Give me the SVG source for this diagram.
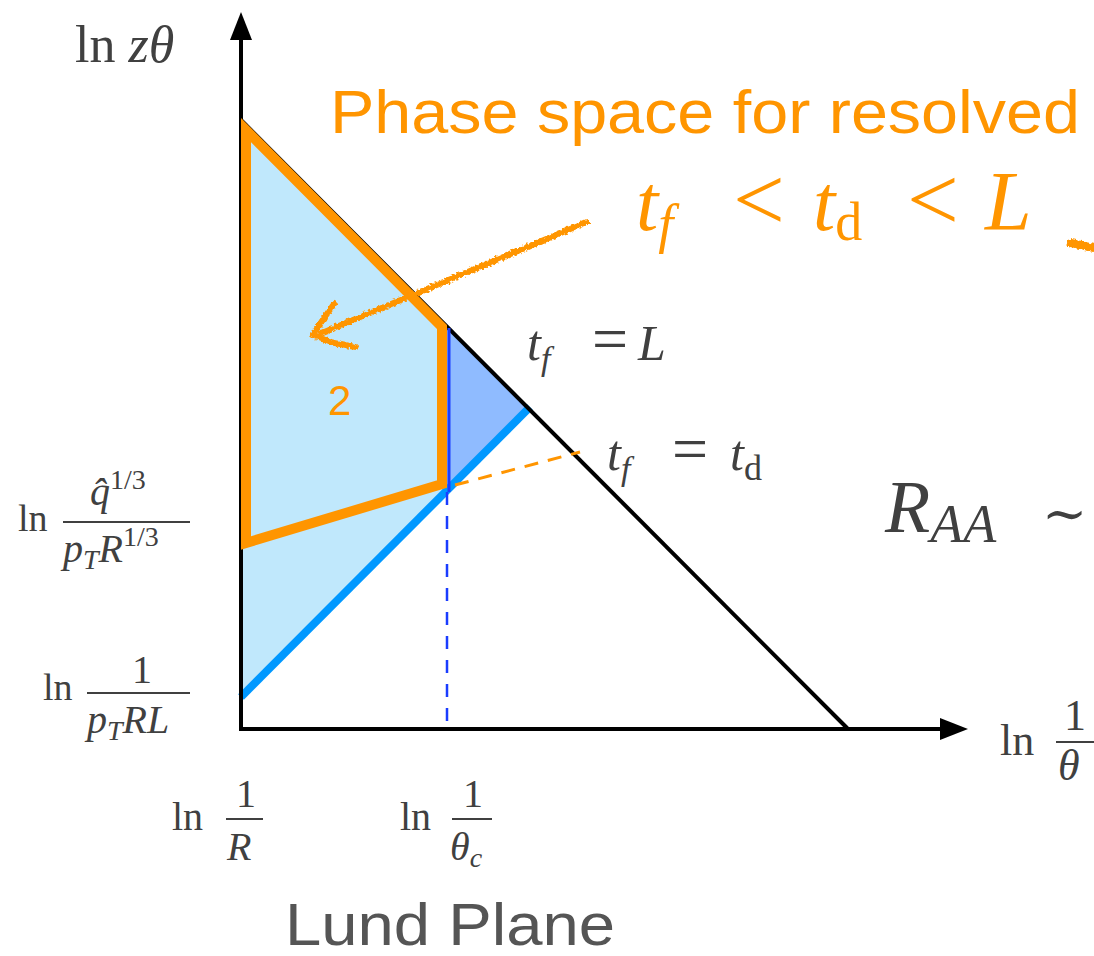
<svg xmlns="http://www.w3.org/2000/svg" width="1094" height="956" viewBox="0 0 1094 956">
<defs>
<filter id="rough" x="-10%" y="-10%" width="120%" height="120%">
<feTurbulence type="fractalNoise" baseFrequency="0.35" numOctaves="2" seed="3" result="n"/>
<feDisplacementMap in="SourceGraphic" in2="n" scale="5" xChannelSelector="R" yChannelSelector="G"/>
</filter>
</defs>
<style>
.m{font-family:"Liberation Serif","DejaVu Serif",serif;fill:#404040}
.i{font-style:italic}
.o{fill:#ff9500}
.sans{font-family:"Liberation Sans","Noto Sans",sans-serif}
.fr{stroke:#404040;stroke-width:2}
</style>
<rect width="1094" height="956" fill="#ffffff"/>
<g id="regions">
<polygon points="241,120 528,409 241,697" fill="#c0e8fc"/>
<polygon points="447,326 528,409 447,491" fill="#8fbbff"/>
</g>
<g id="connectors" fill="none">
<line x1="241" y1="697" x2="530" y2="407" stroke="#0098ff" stroke-width="8"/>
<line x1="241" y1="120" x2="848" y2="729" stroke="#000" stroke-width="4"/>
<line x1="241" y1="731" x2="241" y2="36" stroke="#000" stroke-width="4"/>
<polygon points="241,12 230,40 252,40" fill="#000"/>
<line x1="239" y1="729" x2="944" y2="729" stroke="#000" stroke-width="4"/>
<polygon points="968,729 940,718 940,740" fill="#000"/>
<line x1="449" y1="328" x2="449" y2="492" stroke="#1a3cff" stroke-width="3"/>
<line x1="447" y1="492" x2="447" y2="729" stroke="#1a3cff" stroke-width="2.5" stroke-dasharray="13,11"/>
<polygon points="246,130 442,327 442,484 246,543" stroke="#ff9500" stroke-width="10" stroke-linejoin="miter"/>
<line x1="455" y1="485" x2="580" y2="452" stroke="#ff9500" stroke-width="3" stroke-dasharray="14,10"/>
<g filter="url(#rough)" stroke="#ff9500" stroke-linecap="round" stroke-linejoin="round">
<path d="M587,222 L322,333" stroke-width="6"/>
<path d="M334,304 L324,318 L313,335 L330,342 L355,347" stroke-width="6"/>
<path d="M1071,243 L1094,248" stroke-width="8"/>
</g>
</g>
<g id="title-orange">
<text x="330" y="133" class="sans o" font-size="62" textLength="750" lengthAdjust="spacingAndGlyphs">Phase space for resolved</text>
<text y="230" class="m o" font-size="80"><tspan x="636" class="i">t</tspan><tspan class="i" font-size="54" dy="12">f</tspan><tspan x="733" dy="-12" font-size="92">&lt;</tspan><tspan x="813" class="i">t</tspan><tspan font-size="54" dy="10">d</tspan><tspan x="907" dy="-10" font-size="92">&lt;</tspan><tspan x="985" class="i" font-size="84">L</tspan></text>
<text x="328" y="415" class="sans o" font-size="42">2</text>
</g>
<g id="label-tfL">
<text y="360" class="m" font-size="50"><tspan x="527" class="i">t</tspan><tspan class="i" font-size="34" dy="10">f</tspan><tspan x="592" dy="-10" font-size="64">=</tspan><tspan x="638" class="i">L</tspan></text>
</g>
<g id="label-tftd">
<text y="470" class="m" font-size="50"><tspan x="607" class="i">t</tspan><tspan class="i" font-size="34" dy="10">f</tspan><tspan x="672" dy="-10" font-size="64">=</tspan><tspan x="730" class="i">t</tspan><tspan font-size="36" dy="10">d</tspan></text>
</g>
<g id="label-raa">
<text y="532" class="m" font-size="74"><tspan x="885" class="i">R</tspan><tspan class="i" font-size="54" dy="10">AA</tspan><tspan x="1042" dy="-10" font-size="54">∼</tspan></text>
</g>
<g id="axis-y-label">
<text x="75" y="62" class="m" font-size="52">ln <tspan class="i">zθ</tspan></text>
</g>
<g id="tick-qhat">
<text x="18" y="531" class="m" font-size="38">ln</text>
<text x="90" y="505" class="m" font-size="40"><tspan class="i">q̂</tspan><tspan font-size="28" dy="-16">1/3</tspan></text>
<line x1="63" y1="522" x2="190" y2="522" class="fr"/>
<text x="63" y="562" class="m" font-size="40"><tspan class="i">p</tspan><tspan class="i" font-size="28" dy="7">T</tspan><tspan class="i" dy="-7">R</tspan><tspan font-size="28" dy="-16">1/3</tspan></text>
</g>
<g id="tick-ptRL">
<text x="43" y="700" class="m" font-size="38">ln</text>
<text x="132" y="683" class="m" font-size="40">1</text>
<line x1="87" y1="693" x2="190" y2="693" class="fr"/>
<text x="87" y="733" class="m i" font-size="40">p<tspan font-size="28" dy="7">T</tspan><tspan dy="-7">RL</tspan></text>
</g>
<g id="tick-R">
<text x="172" y="830" class="m" font-size="40">ln</text>
<text x="236" y="807" class="m" font-size="40">1</text>
<line x1="226" y1="819" x2="263" y2="819" class="fr"/>
<text x="227" y="860" class="m i" font-size="40">R</text>
</g>
<g id="tick-thetac">
<text x="400" y="830" class="m" font-size="40">ln</text>
<text x="463" y="807" class="m" font-size="40">1</text>
<line x1="452" y1="819" x2="492" y2="819" class="fr"/>
<text x="450" y="860" class="m i" font-size="40">θ<tspan font-size="28" dy="7">c</tspan></text>
</g>
<g id="axis-x-label">
<text x="1000" y="755" class="m" font-size="44">ln</text>
<text x="1064" y="730" class="m" font-size="44">1</text>
<line x1="1056" y1="742" x2="1094" y2="742" class="fr"/>
<text x="1058" y="780" class="m i" font-size="44">θ</text>
</g>
<g id="caption">
<text x="285" y="945" class="sans" font-size="60" fill="#555555" textLength="330" lengthAdjust="spacingAndGlyphs">Lund Plane</text>
</g>
</svg>
